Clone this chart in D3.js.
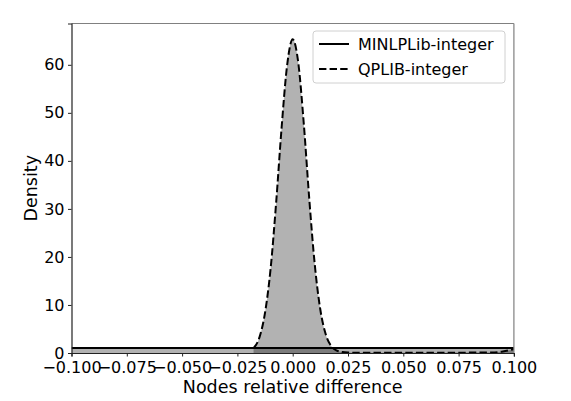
<!DOCTYPE html>
<html>
<head>
<meta charset="utf-8">
<script src="https://cdn.jsdelivr.net/npm/d3@7"></script>
<style>
  body { margin: 0; background: #fff; }
  svg { display: block; font-family: "DejaVu Sans", sans-serif; }
</style>
</head>
<body>
<svg id="chart" width="571" height="401"></svg>
<script>
// values
const seriesNames = ['MINLPLib-integer', 'QPLIB-integer'];
const xTicks = [-0.1, -0.075, -0.05, -0.025, 0, 0.025, 0.05, 0.075, 0.1];
const yTicks = [0, 10, 20, 30, 40, 50, 60];

const minlpX = [-0.1, -0.075, -0.05, -0.025, 0, 0.025, 0.05, 0.075, 0.1];
const minlpDensity = [1.02, 1.03, 1.04, 1.05, 1.05, 1.05, 1.04, 1.03, 1.02];

const qplibX = [-0.0177, -0.015, -0.0125, -0.01, -0.0075, -0.005, -0.0025, 0, 0.0025, 0.005,
  0.0075, 0.01, 0.0125, 0.015, 0.0175, 0.02, 0.0225, 0.025, 0.03, 0.04, 0.05, 0.06, 0.07,
  0.08, 0.09, 0.095, 0.1];
const qplibDensity = [1.0, 3.3, 8.4, 17.5, 31.2, 47.0, 60.0, 65.3, 60.5, 47.8,
  32.0, 18.3, 9.0, 3.8, 1.4, 0.5, 0.2, 0.1, 0.06, 0.05, 0.05, 0.05, 0.06,
  0.08, 0.12, 0.3, 0.8];

const margin = { left: 71.5, right: 571 - 513.9, top: 23.5, bottom: 401 - 353 };
const W = 571, H = 401;

const svg = d3.select('#chart');

const x = d3.scaleLinear().domain([-0.1, 0.1]).range([margin.left, W - margin.right]);
const y = d3.scaleLinear().domain([0, 68.6]).range([H - margin.bottom, margin.top]);

svg.append('defs').append('clipPath').attr('id', 'plot-clip')
  .append('rect')
  .attr('x', x(-0.1)).attr('y', y(68.6))
  .attr('width', x(0.1) - x(-0.1)).attr('height', y(0) - y(68.6));

const plot = svg.append('g').attr('clip-path', 'url(#plot-clip)');

const minlp = minlpX.map((d, i) => ({ x: d, y: minlpDensity[i] }));
const qplib = qplibX.map((d, i) => ({ x: d, y: qplibDensity[i] }));

const area = d3.area()
  .x(d => x(d.x))
  .y0(y(0))
  .y1(d => y(d.y))
  .curve(d3.curveMonotoneX);
const line = d3.line()
  .x(d => x(d.x))
  .y(d => y(d.y))
  .curve(d3.curveMonotoneX);

plot.append('path').datum(minlp).attr('d', area)
  .attr('fill', '#000').attr('fill-opacity', 0.3);
plot.append('path').datum(qplib).attr('d', area)
  .attr('fill', '#000').attr('fill-opacity', 0.3);

plot.append('path').datum(minlp).attr('d', line)
  .attr('fill', 'none').attr('stroke', '#000').attr('stroke-width', 2);
plot.append('path').datum(qplib).attr('d', line)
  .attr('fill', 'none').attr('stroke', '#000').attr('stroke-width', 2)
  .attr('stroke-dasharray', '7.4,3.2');

// frame
svg.append('line')
  .attr('x1', x(-0.1)).attr('x2', x(0.1)).attr('y1', y(68.6)).attr('y2', y(68.6))
  .attr('stroke', '#808080').attr('stroke-width', 1.2);
svg.append('line')
  .attr('x1', x(0.1)).attr('x2', x(0.1)).attr('y1', y(68.6)).attr('y2', y(0))
  .attr('stroke', '#808080').attr('stroke-width', 1.2);

const fmt = d3.format('.3f');

const xAxis = svg.append('g')
  .attr('transform', `translate(0,${y(0)})`)
  .call(d3.axisBottom(x).tickValues(xTicks).tickFormat(fmt).tickSizeOuter(0).tickSize(3.5).tickPadding(5));
const yAxis = svg.append('g')
  .attr('transform', `translate(${x(-0.1)},0)`)
  .call(d3.axisLeft(y).tickValues(yTicks).tickSizeOuter(0).tickSize(3.5).tickPadding(3.5));

[xAxis, yAxis].forEach(g => {
  g.select('.domain').attr('stroke', '#222').attr('stroke-width', 1.2);
  g.selectAll('.tick line').attr('stroke', '#222').attr('stroke-width', 1);
  g.selectAll('.tick text')
    .attr('fill', '#000')
    .style('font-size', '16px')
    .style('font-family', '"DejaVu Sans", sans-serif');
});

svg.append('text')
  .attr('x', x(0)).attr('y', 393)
  .attr('text-anchor', 'middle')
  .style('font-size', '17.5px')
  .text('Nodes relative difference');

svg.append('text')
  .attr('transform', `translate(37,${(y(0) + y(68.6)) / 2}) rotate(-90)`)
  .attr('text-anchor', 'middle')
  .style('font-size', '17.5px')
  .text('Density');

// legend
const legend = svg.append('g').attr('transform', 'translate(313,31)');
legend.append('rect')
  .attr('width', 192).attr('height', 52).attr('rx', 3)
  .attr('fill', '#fff').attr('fill-opacity', 0.8)
  .attr('stroke', '#d0d0d0').attr('stroke-width', 1);

seriesNames.forEach((name, i) => {
  const g = legend.append('g').attr('transform', `translate(0,${13 + i * 25})`);
  g.append('line')
    .attr('x1', 6).attr('x2', 36)
    .attr('stroke', '#000').attr('stroke-width', 2)
    .attr('stroke-dasharray', i === 1 ? '7.4,3.2' : null);
  g.append('text')
    .attr('x', 45).attr('dy', '0.35em')
    .style('font-size', '16px')
    .text(name);
});
</script>
</body>
</html>
